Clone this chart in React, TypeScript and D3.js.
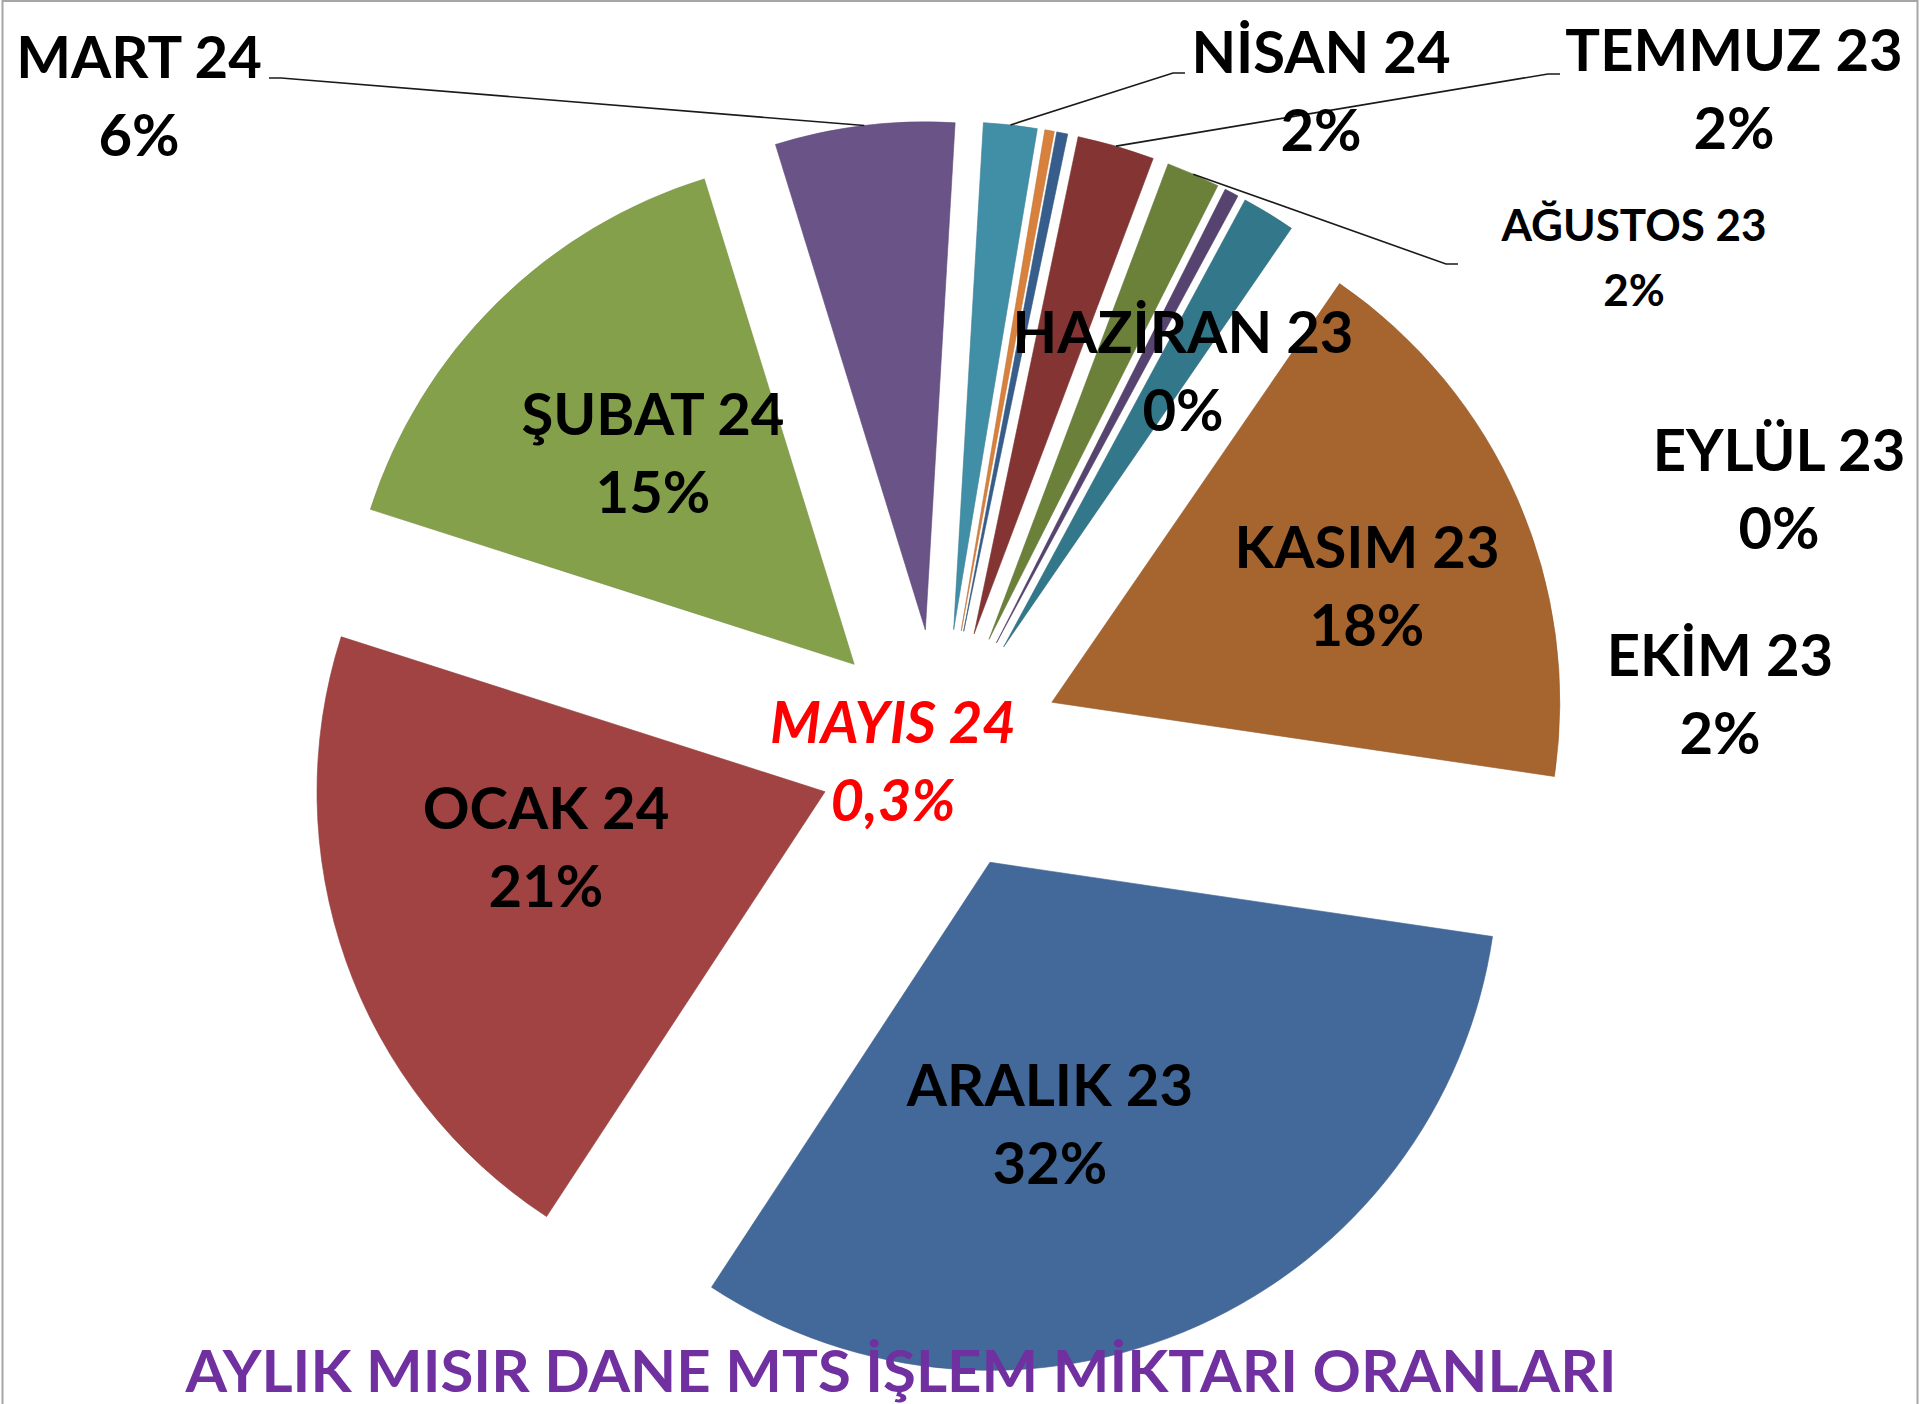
import React, { useEffect, useRef } from 'react';
import * as d3 from 'd3';

// slices in drawing order (clockwise, starting with ARALIK)
const categories = [
    'ARALIK 23', 'OCAK 24', 'ŞUBAT 24', 'MART 24', 'NİSAN 24', 'MAYIS 24',
    'HAZİRAN 23', 'TEMMUZ 23', 'AĞUSTOS 23', 'EYLÜL 23', 'EKİM 23', 'KASIM 23',
];
const values = [31.9, 20.7, 15.3, 5.7, 1.7, 0.3, 0.35, 2.45, 1.7, 0.45, 1.7, 17.75];
const percentLabels = ['32%', '21%', '15%', '6%', '2%', '0,3%', '0%', '2%', '2%', '0%', '2%', '18%'];
const sliceColors = [
    '#43699b', '#a04342', '#84a04b', '#6a5387', '#418fa7', '#d7813d',
    '#375d8c', '#843533', '#6b813a', '#574370', '#33778b', '#a6652f',
];
const title = 'AYLIK MISIR DANE MTS İŞLEM MİKTARI ORANLARI';

// label placement (hand positioned in the original chart)
const labelLayout = {
    'ARALIK 23': { x: 1050, y: 1106 },
    'OCAK 24': { x: 546, y: 829 },
    'ŞUBAT 24': { x: 653, y: 435 },
    'MART 24': { x: 139, y: 78, leader: [269, 78] },
    'NİSAN 24': { x: 1321, y: 73, leader: [1185, 73] },
    'MAYIS 24': { x: 893, y: 743, italic: true, color: '#ff0000' },
    'HAZİRAN 23': { x: 1183, y: 353 },
    'TEMMUZ 23': { x: 1734, y: 71, leader: [1560, 74] },
    'AĞUSTOS 23': { x: 1634, y: 241, size: 44, gap: 65, leader: [1458, 264] },
    'EYLÜL 23': { x: 1779, y: 471 },
    'EKİM 23': { x: 1720, y: 676 },
    'KASIM 23': { x: 1367, y: 568 },
};

const WIDTH = 1920;
const HEIGHT = 1404;
const CX = 940;
const CY = 751;
const RADIUS = 508;
const EXPLODE = 122;
const START = (98.4 * Math.PI) / 180;

const App = () => {
    const ref = useRef(null);

    useEffect(() => {
        document.body.style.margin = '0';
        document.body.style.overflow = 'hidden';

        const svg = d3.select(ref.current);
        svg.selectAll('*').remove();

        const data = categories.map((c, i) => ({ category: c, value: values[i], label: percentLabels[i] }));
        const pie = d3.pie().value(d => d.value).sort(null)
            .startAngle(START).endAngle(START + 2 * Math.PI);
        const arc = d3.arc().innerRadius(0).outerRadius(RADIUS);
        const arcs = pie(data);

        const offset = d => {
            const mid = (d.startAngle + d.endAngle) / 2;
            return [Math.sin(mid) * EXPLODE, -Math.cos(mid) * EXPLODE];
        };

        // chart border
        svg.append('rect')
            .attr('x', 2.5).attr('y', 1)
            .attr('width', WIDTH - 5).attr('height', HEIGHT + 20)
            .attr('fill', 'none')
            .attr('stroke', '#a6a6a6')
            .attr('stroke-width', 2);

        const pieGroup = svg.append('g').attr('transform', `translate(${CX},${CY})`);

        pieGroup.selectAll('path.slice')
            .data(arcs)
            .enter()
            .append('path')
            .attr('class', 'slice')
            .attr('transform', d => `translate(${offset(d)})`)
            .attr('d', arc)
            .attr('fill', (d, i) => sliceColors[i])
            .attr('stroke', (d, i) => d3.color(sliceColors[i]).darker(0.3))
            .attr('stroke-width', 0.6);

        // leader lines for the labels placed outside
        const anchor = d => {
            const mid = (d.startAngle + d.endAngle) / 2;
            const [dx, dy] = offset(d);
            return [CX + dx + Math.sin(mid) * RADIUS, CY + dy - Math.cos(mid) * RADIUS];
        };

        arcs.forEach(d => {
            const lay = labelLayout[d.data.category];
            if (!lay.leader) return;
            const [lx, ly] = lay.leader;
            const [ax, ay] = anchor(d);
            const step = ax > lx ? 12 : -12;
            svg.append('path')
                .attr('d', d3.line()([[lx, ly], [lx + step, ly], [ax, ay]]))
                .attr('fill', 'none')
                .attr('stroke', '#1a1a1a')
                .attr('stroke-width', 1.6);
        });

        // data labels
        const labels = svg.selectAll('text.label')
            .data(arcs)
            .enter()
            .append('text')
            .attr('class', 'label')
            .attr('text-anchor', 'middle')
            .style('font-family', 'Lato, "Open Sans", sans-serif')
            .style('font-weight', 700)
            .style('font-style', d => (labelLayout[d.data.category].italic ? 'italic' : 'normal'))
            .style('font-size', d => `${labelLayout[d.data.category].size || 58}px`)
            .attr('fill', d => labelLayout[d.data.category].color || '#000');

        labels.append('tspan')
            .attr('x', d => labelLayout[d.data.category].x)
            .attr('y', d => labelLayout[d.data.category].y)
            .text(d => d.data.category);

        labels.append('tspan')
            .attr('x', d => labelLayout[d.data.category].x)
            .attr('y', d => labelLayout[d.data.category].y + (labelLayout[d.data.category].gap || 78))
            .text(d => d.data.label);

        // title
        svg.append('text')
            .attr('x', 901)
            .attr('y', 1392)
            .attr('text-anchor', 'middle')
            .attr('textLength', 1431)
            .attr('lengthAdjust', 'spacingAndGlyphs')
            .style('font-family', 'Lato, "Open Sans", sans-serif')
            .style('font-weight', 700)
            .style('font-size', '58px')
            .attr('fill', '#7030a0')
            .text(title);
    }, []);

    return (
        <svg ref={ref} width={WIDTH} height={HEIGHT}
             style={{ position: 'absolute', left: 0, top: 0, background: '#fff' }} />
    );
};

export default App;
